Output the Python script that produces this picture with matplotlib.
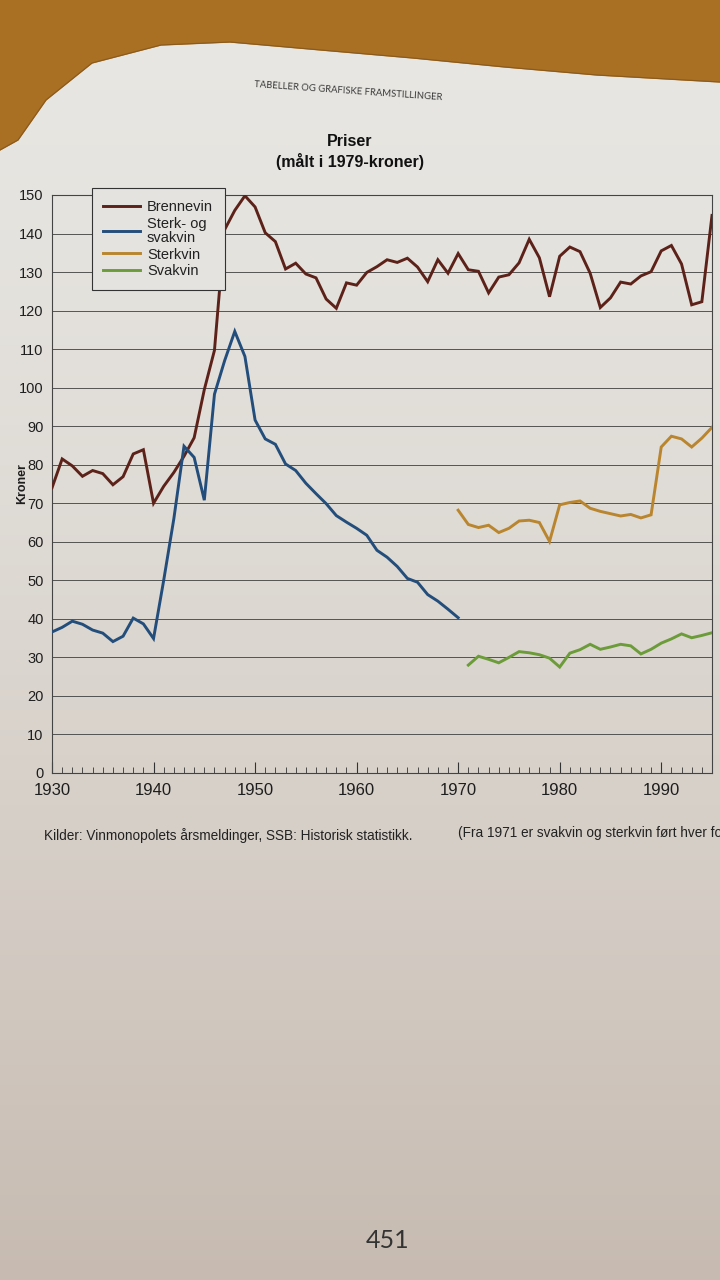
#!/usr/bin/env python3
"""
Purpose: Redraw the page "Priser (målt i 1979-kroner)" - Vinmonopolet prices
"""

import numpy as np
import matplotlib
matplotlib.use('Agg')
from matplotlib import pyplot as plt
from matplotlib.ticker import MultipleLocator
from matplotlib.colors import to_rgb

# ---- data ----
brennevin_years = list(range(1930, 1996))
brennevin = [74, 81.5, 79.7, 77, 78.5, 77.7, 74.8, 76.9, 82.8, 83.9,
             70, 74.4, 78, 82.2, 87, 99.5, 109.7, 141, 146, 149.8,
             146.9, 140.2, 137.9, 130.8, 132.3, 129.5, 128.5, 123, 120.6,
             127.2, 126.6, 129.9, 131.4, 133.2, 132.5, 133.6, 131.3, 127.5,
             133.2, 129.7, 134.8, 130.6, 130.2, 124.6, 128.7, 129.3, 132.4,
             138.5, 133.7, 123.6, 134.1, 136.5, 135.3, 129.7, 120.8, 123.3,
             127.4, 126.9, 129, 130.1, 135.5, 136.9, 132.1, 121.5, 122.3,
             144.7]

sterk_svak_years = list(range(1930, 1971))
sterk_svak = [36.6, 37.8, 39.4, 38.6, 37.1, 36.3, 34.1, 35.5, 40.2, 38.7,
              34.9, 50, 66, 84.8, 81.9, 70.8, 98.3, 107, 114.6,
              108.1, 91.6, 86.7, 85.3, 80.2, 78.5, 75.2, 72.5, 69.9, 66.8,
              65.1, 63.5, 61.7, 57.8, 56, 53.6, 50.5, 49.5, 46.3, 44.6,
              42.5, 40.3]

sterkvin_years = list(range(1970, 1996))
sterkvin = [68.2, 64.5, 63.7, 64.3, 62.4, 63.5, 65.4, 65.6, 65.0, 60.1,
            69.6, 70.2, 70.6, 68.7, 67.9, 67.3, 66.7, 67.1, 66.2, 67,
            84.6, 87.4, 86.7, 84.6, 86.9, 89.7]

svakvin_years = list(range(1971, 1996))
svakvin = [28, 30.3, 29.5, 28.6, 30.0, 31.5, 31.2, 30.7, 29.8, 27.5,
           31.1, 32.0, 33.4, 32.1, 32.7, 33.4, 33.0, 30.9, 32.1, 33.7,
           34.8, 36.1, 35.1, 35.7, 36.4]

series_labels = ['Brennevin', 'Sterk- og\nsvakvin', 'Sterkvin', 'Svakvin']
series_colors = ['#5c2219', '#234d7a', '#b9852f', '#6c9c3a']

W, H = 720, 1280
FONT = ['Liberation Sans', 'DejaVu Sans']


def draw_page(a_fig):
    """ Function to paint the photographed page behind the chart
    Parameters:
        a_fig (Figure): figure to paint on
    Returns:
        None
    """
    bg = a_fig.add_axes([0, 0, 1, 1], zorder=-10)
    bg.set_xlim(0, W)
    bg.set_ylim(H, 0)
    bg.axis('off')
    # paper gets greyer/pinker towards the bottom of the photo
    top = np.array(to_rgb('#e8e7e3'))
    bot = np.array(to_rgb('#c7bbb1'))
    t = np.linspace(0, 1, 256)[:, None] ** 1.4
    grad = top[None, :] * (1 - t) + bot[None, :] * t
    grad = np.repeat(grad[:, None, :], 4, axis=1)
    bg.imshow(grad, extent=[0, W, H, 0], aspect='auto', zorder=0)
    # wooden desk above the curled top edge of the page
    edge_x = [0, 18, 46, 92, 161, 230, 321, 413, 505, 597, 720]
    edge_y = [150, 140, 100, 63, 45, 42, 50, 58, 67, 75, 82]
    bg.fill_between(edge_x, edge_y, 0, color='#a96f22', zorder=1)
    bg.plot(edge_x, edge_y, color='#8a5a1c', lw=0.8, zorder=2)
    # running header and page number
    bg.text(348, 91, 'TABELLER OG GRAFISKE FRAMSTILLINGER', fontsize=6.8,
            color='#3a3a3a', ha='center', va='center', rotation=-4,
            family=['Lato', 'DejaVu Sans'])
    bg.text(388, 1240, '451', fontsize=18, color='#333333', ha='center',
            va='center', family=['Lato', 'DejaVu Sans'])
# enddef draw_page() #


def draw_chart(a_fig):
    """ Function to draw the price chart itself
    Parameters:
        a_fig (Figure): figure to draw on
    Returns:
        None
    """
    left, right, top, bottom = 52, 712, 195, 773
    ax = a_fig.add_axes([left / W, 1 - bottom / H, (right - left) / W,
                         (bottom - top) / H])
    ax.set_facecolor('none')
    data = [(brennevin_years, brennevin), (sterk_svak_years, sterk_svak),
            (sterkvin_years, sterkvin), (svakvin_years, svakvin)]
    for (yrs, vals), lab, col in zip(data, series_labels, series_colors):
        ax.plot(yrs, vals, color=col, lw=2.1, label=lab, zorder=3,
                solid_joinstyle='miter')
    # endfor #
    ax.set_xlim(1930, 1995)
    ax.set_ylim(0, 150)
    ax.xaxis.set_major_locator(MultipleLocator(10))
    ax.xaxis.set_minor_locator(MultipleLocator(1))
    ax.yaxis.set_major_locator(MultipleLocator(10))
    ax.grid(axis='y', color='#4a4a4a', lw=0.65)
    ax.tick_params(axis='x', which='major', direction='in', length=8,
                   width=0.8, color='#333333', labelsize=12, pad=7,
                   labelcolor='#1e1e1e')
    ax.tick_params(axis='x', which='minor', direction='in', length=4,
                   width=0.6, color='#333333')
    ax.tick_params(axis='y', length=0, labelsize=10.5, pad=6,
                   labelcolor='#1e1e1e')
    for lab in ax.get_xticklabels() + ax.get_yticklabels():
        lab.set_family(FONT)
    # endfor #
    for sp in ax.spines.values():
        sp.set_color('#444444')
        sp.set_linewidth(0.8)
    # endfor #
    ax.set_ylabel('Kroner', fontsize=9, fontweight='bold', family=FONT,
                  color='#1e1e1e')
    ax.yaxis.set_label_coords(-0.036, 0.5)
    leg = ax.legend(loc='upper left', bbox_to_anchor=(0.06, 1.012),
                    borderaxespad=0, fancybox=False, framealpha=1,
                    facecolor='#e4e3df', edgecolor='#333333', handlelength=2.5,
                    handletextpad=0.5, labelspacing=0.2, borderpad=0.8,
                    prop={'family': FONT, 'size': 10.5})
    leg.get_frame().set_linewidth(0.8)
    for txt in leg.get_texts():
        txt.set_color('#222222')
        txt.set_linespacing(1.0)
    # endfor #
# enddef draw_chart() #


def main():
    """ Main function.
    Returns:
        None
    """
    assert len(brennevin) == len(brennevin_years)
    assert len(sterk_svak) == len(sterk_svak_years)
    assert len(sterkvin) == len(sterkvin_years)
    assert len(svakvin) == len(svakvin_years)
    fig = plt.figure(figsize=(W / 100, H / 100), dpi=100)
    draw_page(fig)
    draw_chart(fig)
    # titles and source lines
    fig.text(350 / W, 1 - 141 / H, 'Priser', ha='center', va='center',
             fontsize=11.5, fontweight='bold', family=FONT, color='#111111')
    fig.text(350 / W, 1 - 162 / H, '(målt i 1979-kroner)', ha='center',
             va='center', fontsize=11.5, fontweight='bold', family=FONT,
             color='#111111')
    fig.text(44 / W, 1 - 836 / H,
             'Kilder: Vinmonopolets årsmeldinger, SSB: Historisk statistikk.',
             ha='left', va='center', fontsize=9.8, family=FONT,
             color='#222222')
    # the page is cropped on the right in the photo, as here
    fig.text(458 / W, 1 - 833 / H,
             '(Fra 1971 er svakvin og sterkvin ført hver for seg.)',
             ha='left', va='center', fontsize=9.8, family=FONT,
             color='#222222')
    fig.savefig('out.png', dpi=100)
# enddef main() #


if __name__ == "__main__":
    main()
# endif #
